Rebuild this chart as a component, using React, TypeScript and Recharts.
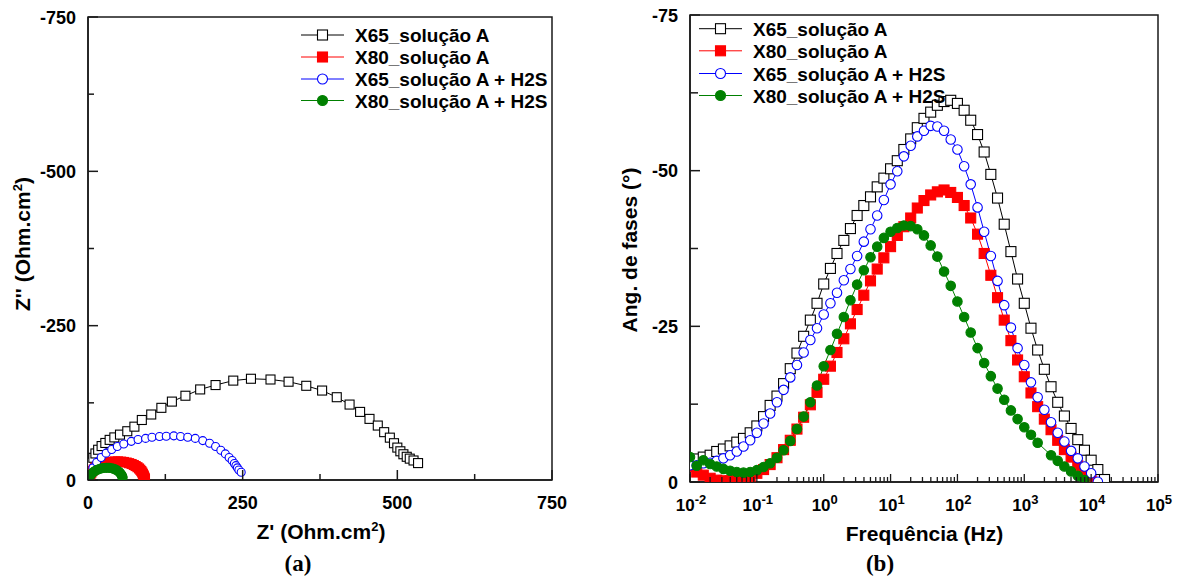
import React from "react";
import { Line, LineChart, ReferenceArea, XAxis, YAxis } from "recharts";

/**
 * Two EIS panels side by side:
 *  (a) Nyquist plot  Z' vs Z''  (Z'' negative, axis reversed so -750 is on top)
 *  (b) Bode phase plot, phase angle vs log frequency (10 points / decade)
 */

const SANS = "'Liberation Sans', Arial, Helvetica, sans-serif";
const SERIF = "'Liberation Serif', 'Times New Roman', serif";

// ---- Nyquist data: [Z', Z''] in Ohm.cm2 ----
const NYQ_X65_A: [number, number][] = [
  [1.5, -8], [3, -20], [5, -28], [8.6, -36], [12, -43], [16.4, -49], [22, -55], [28, -60],
  [35, -65], [42.6, -69], [51.7, -73.5], [63.5, -79], [75, -86.4], [87, -97.2], [102.2, -106.1],
  [118.6, -116.9], [135.6, -127], [157.5, -136.5], [181.3, -146.7], [206.2, -153.8], [234.8, -161],
  [263.4, -164], [295, -162.8], [324.2, -159.2], [352.8, -152.6], [378.4, -144.9], [402.1, -134.1],
  [422.8, -122.2], [439.8, -110.3], [455, -99], [468.4, -88.2], [478.7, -77.5], [487.9, -68.6],
  [494.6, -59.6], [500, -52.5], [504.9, -46.5], [509.8, -41.7], [515.2, -37.6], [520.1, -34.6],
  [526.2, -31.6], [533.5, -27.4],
];
const NYQ_X80_A: [number, number][] = [
  [0.5, -1], [1, -2.5], [1.8, -4.5], [2.8, -7], [4, -9.5], [5.5, -12], [7.2, -14.5], [9.2, -17],
  [11.5, -19.2], [14, -21.2], [17, -23.2], [20.5, -25], [24.5, -26.6], [29, -27.9], [33.5, -28.9],
  [38.5, -29.6], [43.5, -30], [48.5, -30.1], [53.5, -29.8], [58, -29.2], [62.5, -28.3], [66.5, -27.2],
  [70.5, -25.9], [74, -24.3], [77, -22.6], [80, -20.7], [82.5, -18.7], [84.5, -16.6], [86.2, -14.4],
  [87.6, -12.2], [88.7, -10], [89.6, -8], [90.3, -6.2], [90.9, -4.6], [91.4, -3.2], [91.8, -2], [92.1, -1],
];
const NYQ_X65_H2S: [number, number][] = [
  [1, -3], [3, -7.8], [7.9, -19.7], [14, -28.6], [21.3, -36.4], [29.2, -43.5], [38.3, -49.5],
  [47.4, -54.3], [57.8, -58.4], [70, -62.6], [80.9, -65.6], [93.1, -67.4], [103.4, -69.2],
  [115.6, -70.4], [126.5, -70.9], [138.7, -71.5], [149.6, -70.4], [161.2, -69.2], [173.4, -67.4],
  [185.5, -63.8], [196.5, -59.6], [206.2, -54.3], [214.7, -48.3], [222, -42.3], [228.1, -36.4],
  [233, -31.6], [236.6, -26.8], [239.1, -23.3], [241.5, -19.7], [243.9, -16.1], [247.6, -12.5],
];
const NYQ_X80_H2S: [number, number][] = [
  [0.5, -1], [1.2, -2.5], [2.2, -4.5], [3.5, -6.8], [5, -9], [7, -11.2], [9.3, -13.2], [12, -15],
  [15, -16.5], [18.5, -17.8], [22, -18.8], [26, -19.4], [30, -19.7], [34, -19.6], [38, -19],
  [41.5, -18], [44.5, -16.8], [47.5, -15.2], [50, -13.3], [52, -11.3], [53.5, -9.3], [54.6, -7.4],
  [55.4, -5.6], [56, -4],
];

// ---- Bode phase data: frequency (Hz) and phase (deg) ----
const FREQ = [
  0.01, 0.0126, 0.0158, 0.02, 0.0251, 0.0316, 0.0398, 0.0501, 0.0631, 0.0794,
  0.1, 0.126, 0.158, 0.2, 0.251, 0.316, 0.398, 0.501, 0.631, 0.794,
  1, 1.26, 1.58, 2, 2.51, 3.16, 3.98, 5.01, 6.31, 7.94,
  10, 12.6, 15.8, 20, 25.1, 31.6, 39.8, 50.1, 63.1, 79.4,
  100, 126, 158, 200, 251, 316, 398, 501, 631, 794,
  1000, 1259, 1585, 1995, 2512, 3162, 3981, 5012, 6310, 7943,
  10000, 12589, 15849,
];
const PHASE_X65_A = [
  -3.3, -3.7, -4.0, -4.3, -4.9, -5.3, -5.8, -6.4, -7.0, -7.9,
  -9.0, -10.5, -12.3, -13.8, -15.8, -18.2, -20.7, -23.4, -26.0, -28.7,
  -31.8, -34.3, -36.7, -38.8, -40.7, -42.8, -44.4, -45.8, -47.4, -48.8,
  -50.3, -51.6, -53.4, -55.1, -56.9, -58.4, -59.4, -60.5, -61.1, -61.3,
  -60.8, -59.7, -58.1, -55.8, -53.0, -49.4, -45.6, -41.4, -37.0, -32.6,
  -28.7, -24.7, -21.2, -18.1, -15.3, -12.8, -10.6, -8.6, -6.8, -5.1,
  -3.5, -2.0, -0.4,
];
const PHASE_X80_A = [
  -2.5, -1.6, -1.1, -0.6, -0.3, -0.2, -0.2, -0.3, -0.5, -0.9,
  -1.4, -2.0, -2.8, -3.9, -5.2, -6.7, -8.5, -10.4, -12.4, -14.4,
  -16.5, -18.6, -20.8, -23.0, -25.4, -27.7, -30.0, -32.3, -34.2, -36.0,
  -37.8, -39.6, -41.0, -42.4, -44.0, -45.2, -46.1, -46.6, -46.9, -46.5,
  -45.7, -44.4, -42.4, -39.8, -36.7, -33.2, -29.6, -26.0, -22.7, -19.6,
  -16.9, -14.3, -12.1, -10.1, -8.4, -6.7, -5.2, -4.0, -2.6, -1.3,
  -0.2,
];
const PHASE_X65_H2S = [
  -2.7, -2.7, -3.0, -3.1, -3.4, -3.8, -4.3, -4.9, -5.7, -6.7,
  -7.9, -9.4, -11.0, -12.8, -14.8, -16.8, -18.8, -20.8, -22.8, -24.7,
  -26.9, -28.7, -30.4, -32.4, -34.2, -36.3, -38.6, -40.6, -42.8, -45.3,
  -47.8, -49.9, -52.3, -54.0, -55.5, -56.4, -57.2, -57.1, -56.4, -55.0,
  -53.4, -50.7, -47.8, -44.1, -40.2, -36.3, -32.3, -28.4, -24.8, -21.5,
  -18.8, -16.0, -13.6, -11.6, -9.6, -7.9, -6.5, -5.0, -3.8, -2.5,
  -1.4, -0.05,
];
const PHASE_X80_H2S: (number | null)[] = [
  -4.0, -2.6, -3.5, -2.9, -2.5, -2.1, -1.8, -1.6, -1.5, -1.6,
  -1.9, -2.4, -3.0, -3.9, -5.1, -6.6, -8.5, -10.5, -12.8, -15.5,
  -18.6, -21.2, -23.8, -26.5, -29.2, -31.7, -34.0, -36.1, -37.8, -39.2,
  -40.2, -40.8, -41.2, -41.1, -40.6, -39.6, -38.0, -36.2, -33.8, -31.5,
  -29.0, -26.5, -24.0, -21.5, -19.1, -17.0, -15.0, -13.2, -11.5, -10.1,
  -8.8, -7.6, -6.3, null, -4.3, -3.4, -2.5, -1.7, -1.0, -0.3,
];

// ---- axis ticks ----
const Z_TICKS = [0, 125, 250, 375, 500, 625, 750];
const ZIM_TICKS = [-750, -625, -500, -375, -250, -125, 0];
const PHASE_TICKS = [-75, -62.5, -50, -37.5, -25, -12.5, 0];
const DECADES = [0.01, 0.1, 1, 10, 100, 1000, 10000, 100000];
const MINOR_MULT = [2, 3, 4, 5, 6, 7, 8, 9];
const FREQ_TICKS = [
  ...DECADES,
  ...DECADES.slice(0, -1).flatMap((d) => MINOR_MULT.map((m) => d * m)),
].sort((a, b) => a - b);

type Shape = "square" | "circle";
interface SeriesDef {
  key: string;
  name: string;
  color: string;
  shape: Shape;
  filled: boolean;
}

const SERIES: SeriesDef[] = [
  { key: "x65a", name: "X65_solução A", color: "#000000", shape: "square", filled: false },
  { key: "x80a", name: "X80_solução A", color: "#ff0000", shape: "square", filled: true },
  { key: "x65h", name: "X65_solução A + H2S", color: "#0000ff", shape: "circle", filled: false },
  { key: "x80h", name: "X80_solução A + H2S", color: "#008000", shape: "circle", filled: true },
];

const NYQ_BY_KEY: Record<string, [number, number][]> = {
  x65a: NYQ_X65_A,
  x80a: NYQ_X80_A,
  x65h: NYQ_X65_H2S,
  x80h: NYQ_X80_H2S,
};

const bodeRows = FREQ.map((f, i) => ({
  f,
  x65a: PHASE_X65_A[i] ?? null,
  x80a: PHASE_X80_A[i] ?? null,
  x65h: PHASE_X65_H2S[i] ?? null,
  x80h: i < PHASE_X80_H2S.length ? PHASE_X80_H2S[i] : null,
}));

function Marker({
  cx,
  cy,
  s,
  size,
}: {
  cx: number;
  cy: number;
  s: SeriesDef;
  size: number;
}) {
  const fill = s.filled ? s.color : "#ffffff";
  if (s.shape === "square") {
    return (
      <rect
        x={cx - size / 2}
        y={cy - size / 2}
        width={size}
        height={size}
        fill={fill}
        stroke={s.color}
        strokeWidth={1.1}
      />
    );
  }
  return <circle cx={cx} cy={cy} r={size / 2} fill={fill} stroke={s.color} strokeWidth={1.1} />;
}

function dotFor(s: SeriesDef, size: number) {
  return (p: any) => {
    const k = `${s.key}-${p.index}`;
    if (p.cx == null || p.cy == null || p.value == null || !Number.isFinite(p.cy)) {
      return <g key={k} />;
    }
    return (
      <g key={k}>
        <Marker cx={p.cx} cy={p.cy} s={s} size={size} />
      </g>
    );
  };
}

const TICK_TEXT = { fontFamily: SANS, fontWeight: 700, fontSize: 18, fill: "#000" };
const AXIS_STROKE = "#1a1a1a";

// ---- custom ticks (drawn inward, labels outside) ----
function ZBottomTick(p: any) {
  const v = p.payload.value as number;
  const major = v % 250 === 0;
  return (
    <g>
      <line x1={p.x} x2={p.x} y1={p.y} y2={p.y - (major ? 10 : 6)} stroke={AXIS_STROKE} strokeWidth={1.5} />
      {major && (
        <text x={p.x} y={p.y + 29} textAnchor="middle" {...TICK_TEXT}>
          {v}
        </text>
      )}
    </g>
  );
}

function ZLeftTick(p: any) {
  const v = p.payload.value as number;
  const major = v % 250 === 0;
  return (
    <g>
      <line x1={p.x} x2={p.x + (major ? 10 : 6)} y1={p.y} y2={p.y} stroke={AXIS_STROKE} strokeWidth={1.5} />
      {major && (
        <text x={p.x - 12} y={p.y + 6.5} textAnchor="end" {...TICK_TEXT}>
          {v}
        </text>
      )}
    </g>
  );
}

function FreqTick(p: any) {
  const v = p.payload.value as number;
  const lg = Math.log10(v);
  const major = Math.abs(lg - Math.round(lg)) < 1e-6;
  return (
    <g>
      <line x1={p.x} x2={p.x} y1={p.y} y2={p.y - (major ? 8 : 5)} stroke={AXIS_STROKE} strokeWidth={1.3} />
      {major && (
        <text x={p.x + 1} y={p.y + 28.5} textAnchor="middle" {...TICK_TEXT} fontSize={17}>
          10
          <tspan dy={-7} fontSize={13}>
            {Math.round(lg)}
          </tspan>
        </text>
      )}
    </g>
  );
}

function PhaseLeftTick(p: any) {
  const v = p.payload.value as number;
  const major = v % 25 === 0;
  return (
    <g>
      <line x1={p.x} x2={p.x + (major ? 10 : 8)} y1={p.y} y2={p.y} stroke={AXIS_STROKE} strokeWidth={1.5} />
      {major && (
        <text x={p.x - 12} y={p.y + 6.5} textAnchor="end" {...TICK_TEXT}>
          {v}
        </text>
      )}
    </g>
  );
}

function NyquistChart() {
  return (
    <LineChart width={590} height={578} margin={{ top: 17, right: 38, bottom: 0, left: 0 }}>
      <XAxis
        type="number"
        dataKey="x"
        domain={[0, 750]}
        ticks={Z_TICKS}
        interval={0}
        tickSize={0}
        tickMargin={0}
        tickLine={false}
        tick={ZBottomTick}
        height={98}
        axisLine={{ stroke: AXIS_STROKE, strokeWidth: 1.5 }}
        allowDataOverflow
      />
      <YAxis
        type="number"
        dataKey="y"
        domain={[-750, 0]}
        reversed
        ticks={ZIM_TICKS}
        interval={0}
        tickSize={0}
        tickMargin={0}
        tickLine={false}
        tick={ZLeftTick}
        width={88}
        axisLine={{ stroke: AXIS_STROKE, strokeWidth: 1.5 }}
        allowDataOverflow
      />
      <ReferenceArea x1={0} x2={750} y1={-750} y2={0} fill="none" stroke={AXIS_STROKE} strokeWidth={1.5} />
      {SERIES.map((s) => (
        <Line
          key={s.key}
          data={NYQ_BY_KEY[s.key].map(([x, y]) => ({ x, y }))}
          dataKey="y"
          type="linear"
          stroke={s.color}
          strokeWidth={1}
          dot={dotFor(s, s.key === "x65h" ? 8 : 9)}
          activeDot={false}
          isAnimationActive={false}
          legendType="none"
        />
      ))}
    </LineChart>
  );
}

function BodeChart() {
  return (
    <LineChart
      width={591}
      height={578}
      data={bodeRows}
      margin={{ top: 15, right: 23, bottom: 0, left: 0 }}
    >
      <XAxis
        type="number"
        dataKey="f"
        scale="log"
        domain={[0.01, 100000]}
        ticks={FREQ_TICKS}
        interval={0}
        tickSize={0}
        tickMargin={0}
        tickLine={false}
        tick={FreqTick}
        height={96}
        axisLine={{ stroke: AXIS_STROKE, strokeWidth: 1.5 }}
        allowDataOverflow
      />
      <YAxis
        type="number"
        domain={[-75, 0]}
        reversed
        ticks={PHASE_TICKS}
        interval={0}
        tickSize={0}
        tickMargin={0}
        tickLine={false}
        tick={PhaseLeftTick}
        width={100}
        axisLine={{ stroke: AXIS_STROKE, strokeWidth: 1.5 }}
        allowDataOverflow
      />
      <ReferenceArea x1={0.01} x2={100000} y1={-75} y2={0} fill="none" stroke={AXIS_STROKE} strokeWidth={1.5} />
      {SERIES.map((s) => (
        <Line
          key={s.key}
          dataKey={s.key}
          type="linear"
          stroke={s.color}
          strokeWidth={1}
          connectNulls
          dot={dotFor(s, s.shape === "square" ? 10 : 9.5)}
          activeDot={false}
          isAnimationActive={false}
          legendType="none"
        />
      ))}
    </LineChart>
  );
}

function LegendRows({ sx, rows }: { sx: number; rows: number[] }) {
  return (
    <g>
      {SERIES.map((s, i) => (
        <g key={s.key}>
          <line x1={sx} x2={sx + 43} y1={rows[i]} y2={rows[i]} stroke={s.color} strokeWidth={1} />
          <Marker cx={sx + 21.5} cy={rows[i]} s={s} size={10} />
          <text x={sx + 54} y={rows[i] + 7} fontFamily={SANS} fontWeight={700} fontSize={19} fill="#000">
            {s.name}
          </text>
        </g>
      ))}
    </g>
  );
}

export default function App() {
  const title = { fontFamily: SANS, fontWeight: 700, fontSize: 21, fill: "#000" };
  return (
    <div style={{ position: "absolute", left: 0, top: 0, width: 1181, height: 578, background: "#fff" }}>
      <div style={{ position: "absolute", left: 0, top: 0 }}>
        <NyquistChart />
      </div>
      <div style={{ position: "absolute", left: 590, top: 0 }}>
        <BodeChart />
      </div>
      <svg
        width={1181}
        height={578}
        style={{ position: "absolute", left: 0, top: 0, pointerEvents: "none" }}
      >
        <LegendRows sx={301} rows={[35, 57, 79, 100.5]} />
        <LegendRows sx={699} rows={[28.7, 50.8, 73.5, 95.5]} />

        <text x={321} y={539} textAnchor="middle" {...title}>
          Z' (Ohm.cm
          <tspan dy={-8} fontSize={13}>2</tspan>
          <tspan dy={8}>)</tspan>
        </text>
        <text x={30} y={244} textAnchor="middle" transform="rotate(-90 30 244)" {...title}>
          Z'' (Ohm.cm
          <tspan dy={-8} fontSize={13}>2</tspan>
          <tspan dy={8}>)</tspan>
        </text>
        <text x={924.5} y={541} textAnchor="middle" {...title}>
          Frequência (Hz)
        </text>
        <text x={636.5} y={250} textAnchor="middle" transform="rotate(-90 636.5 250)" {...title}>
          Ang. de fases (°)
        </text>
        <text x={298} y={571} textAnchor="middle" fontFamily={SERIF} fontWeight={700} fontSize={23} fill="#000">
          (a)
        </text>
        <text x={880} y={571} textAnchor="middle" fontFamily={SERIF} fontWeight={700} fontSize={23} fill="#000">
          (b)
        </text>
      </svg>
    </div>
  );
}
